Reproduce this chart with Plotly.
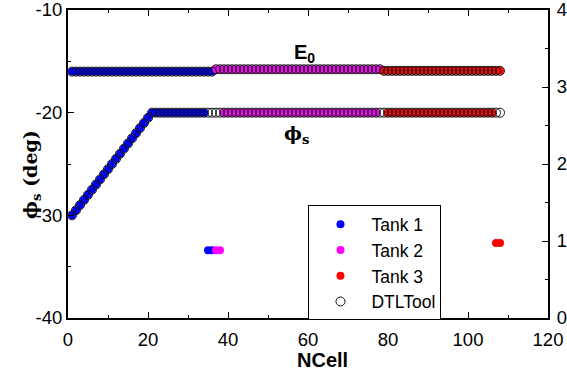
import plotly.graph_objects as go

# ---- cell numbers per tank ----
tank1_cells = list(range(1, 37))
tank2_cells = list(range(37, 79))
tank3_cells = list(range(79, 109))

# E0 (right axis) per cell
tank1_e0 = [
    3.20, 3.20, 3.20, 3.20, 3.20, 3.20, 3.20, 3.20, 3.20, 3.20, 3.20, 3.20,
    3.20, 3.20, 3.20, 3.20, 3.20, 3.20, 3.20, 3.20, 3.20, 3.20, 3.20, 3.20,
    3.20, 3.20, 3.20, 3.20, 3.20, 3.20, 3.20, 3.20, 3.20, 3.20, 3.20, 3.20]
tank2_e0 = [
    3.23, 3.23, 3.23, 3.23, 3.23, 3.23, 3.23, 3.23, 3.23, 3.23, 3.23, 3.23, 3.23, 3.23,
    3.23, 3.23, 3.23, 3.23, 3.23, 3.23, 3.23, 3.23, 3.23, 3.23, 3.23, 3.23, 3.23, 3.23,
    3.23, 3.23, 3.23, 3.23, 3.23, 3.23, 3.23, 3.23, 3.23, 3.23, 3.23, 3.23, 3.23, 3.23]
tank3_e0 = [
    3.21, 3.21, 3.21, 3.21, 3.21, 3.21, 3.21, 3.21, 3.21, 3.21,
    3.21, 3.21, 3.21, 3.21, 3.21, 3.21, 3.21, 3.21, 3.21, 3.21,
    3.21, 3.21, 3.21, 3.21, 3.21, 3.21, 3.21, 3.21, 3.21, 3.21]

# synchronous phase (left axis, deg)
tank1_phi_cells = list(range(1, 37))
tank1_phi = [
    -30.0, -29.5, -29.0, -28.5, -28.0, -27.5, -27.0, -26.5, -26.0, -25.5, -25.0,
    -24.5, -24.0, -23.5, -23.0, -22.5, -22.0, -21.5, -21.0, -20.5, -20.0,
    -20.0, -20.0, -20.0, -20.0, -20.0, -20.0, -20.0, -20.0, -20.0, -20.0,
    -20.0, -20.0, -20.0, -33.4, -33.4]
tank2_phi_cells = list(range(37, 78))
tank2_phi = [
    -33.4, -33.4,
    -20.0, -20.0, -20.0, -20.0, -20.0, -20.0, -20.0, -20.0, -20.0, -20.0, -20.0, -20.0, -20.0,
    -20.0, -20.0, -20.0, -20.0, -20.0, -20.0, -20.0, -20.0, -20.0, -20.0, -20.0, -20.0, -20.0,
    -20.0, -20.0, -20.0, -20.0, -20.0, -20.0, -20.0, -20.0, -20.0, -20.0, -20.0, -20.0, -20.0]
tank3_phi_cells = list(range(80, 109))
tank3_phi = [
    -20.0, -20.0, -20.0, -20.0, -20.0, -20.0, -20.0, -20.0, -20.0, -20.0,
    -20.0, -20.0, -20.0, -20.0, -20.0, -20.0, -20.0, -20.0, -20.0, -20.0,
    -20.0, -20.0, -20.0, -20.0, -20.0, -20.0, -20.0, -32.7, -32.7]

# DTLTool reference values
dtl_cells = list(range(1, 109))
dtl_e0 = tank1_e0 + tank2_e0 + tank3_e0
dtl_phi = [
    -30.0, -29.5, -29.0, -28.5, -28.0, -27.5, -27.0, -26.5, -26.0, -25.5, -25.0,
    -24.5, -24.0, -23.5, -23.0, -22.5, -22.0, -21.5, -21.0, -20.5, -20.0,
    -20.0, -20.0, -20.0, -20.0, -20.0, -20.0, -20.0, -20.0, -20.0, -20.0, -20.0,
    -20.0, -20.0, -20.0, -20.0, -20.0, -20.0, -20.0, -20.0, -20.0, -20.0, -20.0,
    -20.0, -20.0, -20.0, -20.0, -20.0, -20.0, -20.0, -20.0, -20.0, -20.0, -20.0,
    -20.0, -20.0, -20.0, -20.0, -20.0, -20.0, -20.0, -20.0, -20.0, -20.0, -20.0,
    -20.0, -20.0, -20.0, -20.0, -20.0, -20.0, -20.0, -20.0, -20.0, -20.0, -20.0,
    -20.0, -20.0, -20.0, -20.0, -20.0, -20.0, -20.0, -20.0, -20.0, -20.0, -20.0,
    -20.0, -20.0, -20.0, -20.0, -20.0, -20.0, -20.0, -20.0, -20.0, -20.0, -20.0,
    -20.0, -20.0, -20.0, -20.0, -20.0, -20.0, -20.0, -20.0, -20.0, -20.0]

tank_names = ["Tank 1", "Tank 2", "Tank 3"]
tank_colors = ["#0000ff", "#ff00ff", "#ff0000"]

# axis tick labels (plain hyphen minus)
x_ticks = [0, 20, 40, 60, 80, 100, 120]
x_ticklabels = ["0", "20", "40", "60", "80", "100", "120"]
phi_ticks = [-40, -30, -20, -10]
phi_ticklabels = ["-40", "-30", "-20", "-10"]
e0_ticks = [0, 1, 2, 3, 4]
e0_ticklabels = ["0", "1", "2", "3", "4"]

FONT = "Liberation Sans, Arial, sans-serif"
SERIF = "DejaVu Serif, serif"
MS = 9

fig = go.Figure()

tanks = [
    (tank1_cells, tank1_e0, tank1_phi_cells, tank1_phi),
    (tank2_cells, tank2_e0, tank2_phi_cells, tank2_phi),
    (tank3_cells, tank3_e0, tank3_phi_cells, tank3_phi),
]
for (cells, e0, pcells, phi), name, color in zip(tanks, tank_names, tank_colors):
    fig.add_trace(go.Scatter(
        x=pcells, y=phi, mode="markers", name=name, legendgroup=name,
        marker=dict(color=color, size=MS - 1, line=dict(width=0)),
        yaxis="y"))
    fig.add_trace(go.Scatter(
        x=cells, y=e0, mode="markers", name=name, legendgroup=name,
        showlegend=False,
        marker=dict(color=color, size=MS - 1, line=dict(width=0)),
        yaxis="y2"))

dtl_marker = dict(symbol="circle-open", color="#111111", size=MS,
                  line=dict(width=1, color="#111111"))
fig.add_trace(go.Scatter(
    x=dtl_cells, y=dtl_phi, mode="markers", name="DTLTool", legendgroup="dtl",
    marker=dtl_marker, yaxis="y"))
fig.add_trace(go.Scatter(
    x=dtl_cells, y=dtl_e0, mode="markers", name="DTLTool", legendgroup="dtl",
    showlegend=False, marker=dtl_marker, yaxis="y2"))

axis_common = dict(
    showline=True, linecolor="black", linewidth=2,
    ticks="inside", ticklen=6, tickwidth=1, tickcolor="black",
    showgrid=False, zeroline=False, automargin=False,
    ticklabeloverflow="allow",
    tickfont=dict(family=FONT, size=18.5, color="black"),
)

fig.update_layout(
    width=567, height=370,
    margin=dict(l=68, r=19, t=10, b=52),
    paper_bgcolor="white", plot_bgcolor="white",
    showlegend=True,
    xaxis=dict(range=[0, 120], tickvals=x_ticks, ticktext=x_ticklabels,
               mirror="ticks", ticklabelstandoff=4,
               minor=dict(dtick=10, ticks="inside", ticklen=3, tickcolor="black"),
               **axis_common),
    yaxis=dict(range=[-40, -10], tickvals=phi_ticks, ticktext=phi_ticklabels,
               minor=dict(dtick=5, ticks="inside", ticklen=3, tickcolor="black"),
               **axis_common),
    yaxis2=dict(range=[0, 4], tickvals=e0_ticks, ticktext=e0_ticklabels,
                overlaying="y", side="right", ticklabelstandoff=3,
                minor=dict(dtick=0.5, ticks="inside", ticklen=3, tickcolor="black"),
                **axis_common),
    legend=dict(x=0.501, y=0.179, xanchor="left", yanchor="middle",
                bordercolor="black", borderwidth=1, bgcolor="white",
                font=dict(family=FONT, size=17.5, color="black"),
                itemwidth=52, tracegroupgap=0),
    annotations=[
        dict(x=0.5, y=-0.095, xref="paper", yref="paper", showarrow=False,
             text="<b>NCell</b>", xanchor="center", yanchor="top",
             font=dict(family=FONT, size=20, color="black"), xshift=14),
        dict(x=-0.105, y=0.465, xref="paper", yref="paper", showarrow=False,
             text="<b>ϕ<sub>s</sub> (deg)</b>", textangle=-90,
             font=dict(family=SERIF, size=19, color="black")),
        dict(x=59, y=-14.2, xref="x", yref="y", showarrow=False,
             text="<b>E<sub>0</sub></b>",
             font=dict(family=FONT, size=20, color="black")),
        dict(x=57, y=-22.1, xref="x", yref="y", showarrow=False,
             text="<b>ϕ<sub>s</sub></b>",
             font=dict(family=SERIF, size=19, color="black")),
    ],
)

fig.write_html("out.html")
